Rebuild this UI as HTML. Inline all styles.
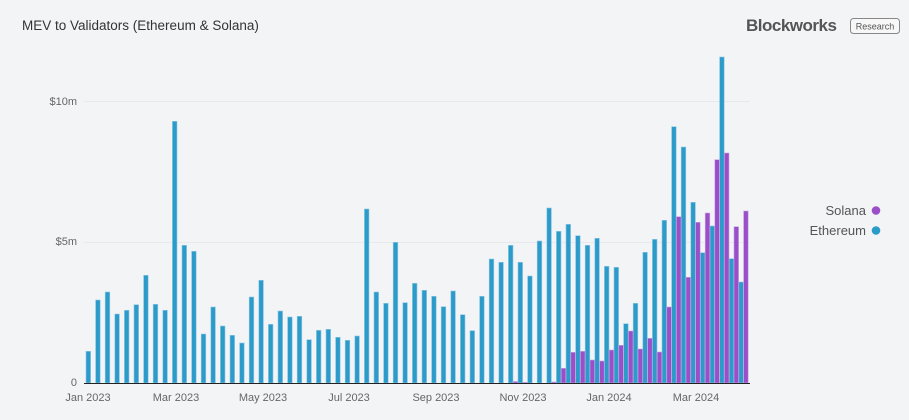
<!DOCTYPE html>
<html><head><meta charset="utf-8"><style>
html,body{margin:0;padding:0;background:#f3f4f6;}
body{width:909px;height:415px;overflow:hidden;font-family:"Liberation Sans",sans-serif;}
</style></head><body>
<svg width="909" height="415" viewBox="0 0 909 415" xmlns="http://www.w3.org/2000/svg" font-family="Liberation Sans, sans-serif">
<rect width="909" height="415" fill="#f3f4f6"/>
<text x="22" y="30" font-size="13.5" fill="#333">MEV to Validators (Ethereum &amp; Solana)</text>
<text x="746" y="31" font-size="17" font-weight="bold" fill="#555" letter-spacing="-0.5">Blockworks</text>
<rect x="850.5" y="18.5" width="49" height="15" rx="3" fill="#f7f7f7" stroke="#888"/>
<text x="875" y="29.5" font-size="9" fill="#555" text-anchor="middle">Research</text>
<g stroke="#e8e9ec" stroke-width="1">
<line x1="84" y1="101.5" x2="750" y2="101.5"/>
<line x1="84" y1="242.5" x2="750" y2="242.5"/>
</g>
<g font-size="11" fill="#666" text-anchor="end">
<text x="77" y="105">$10m</text>
<text x="77" y="245">$5m</text>
<text x="77" y="386">0</text>
</g>
<g font-size="11" fill="#666" text-anchor="middle">
<text x="88" y="401">Jan 2023</text>
<text x="176" y="401">Mar 2023</text>
<text x="263" y="401">May 2023</text>
<text x="349" y="401">Jul 2023</text>
<text x="436" y="401">Sep 2023</text>
<text x="523" y="401">Nov 2023</text>
<text x="609" y="401">Jan 2024</text>
<text x="696" y="401">Mar 2024</text>
</g>
<g fill="#2d9bca" stroke="#8fc9e4" stroke-width="0.6">
<rect x="86" y="351.3" width="4.6" height="31.7"/>
<rect x="95.6" y="300" width="4.6" height="83"/>
<rect x="105.2" y="292" width="4.6" height="91"/>
<rect x="114.8" y="314" width="4.6" height="69"/>
<rect x="124.4" y="310.3" width="4.6" height="72.7"/>
<rect x="134" y="304.7" width="4.6" height="78.3"/>
<rect x="143.6" y="275.3" width="4.6" height="107.7"/>
<rect x="153.2" y="304.3" width="4.6" height="78.7"/>
<rect x="162.8" y="310.3" width="4.6" height="72.7"/>
<rect x="172.4" y="121.3" width="4.6" height="261.7"/>
<rect x="182" y="245.3" width="4.6" height="137.7"/>
<rect x="191.6" y="251.3" width="4.6" height="131.7"/>
<rect x="201.2" y="334" width="4.6" height="49"/>
<rect x="210.8" y="307" width="4.6" height="76"/>
<rect x="220.4" y="326" width="4.6" height="57"/>
<rect x="230" y="335.3" width="4.6" height="47.7"/>
<rect x="239.6" y="343" width="4.6" height="40"/>
<rect x="249.2" y="297" width="4.6" height="86"/>
<rect x="258.8" y="280.3" width="4.6" height="102.7"/>
<rect x="268.4" y="324.3" width="4.6" height="58.7"/>
<rect x="278" y="311" width="4.6" height="72"/>
<rect x="287.6" y="317" width="4.6" height="66"/>
<rect x="297.2" y="316.3" width="4.6" height="66.7"/>
<rect x="306.8" y="339.7" width="4.6" height="43.3"/>
<rect x="316.4" y="330.3" width="4.6" height="52.7"/>
<rect x="326" y="329.3" width="4.6" height="53.7"/>
<rect x="335.6" y="337.3" width="4.6" height="45.7"/>
<rect x="345.2" y="340.3" width="4.6" height="42.7"/>
<rect x="354.8" y="336" width="4.6" height="47"/>
<rect x="364.4" y="209" width="4.6" height="174"/>
<rect x="374" y="292" width="4.6" height="91"/>
<rect x="383.6" y="303.3" width="4.6" height="79.7"/>
<rect x="393.2" y="242.3" width="4.6" height="140.7"/>
<rect x="402.8" y="302.7" width="4.6" height="80.3"/>
<rect x="412.4" y="283.3" width="4.6" height="99.7"/>
<rect x="422" y="290.3" width="4.6" height="92.7"/>
<rect x="431.6" y="296.3" width="4.6" height="86.7"/>
<rect x="441.2" y="306.7" width="4.6" height="76.3"/>
<rect x="450.8" y="291" width="4.6" height="92"/>
<rect x="460.4" y="314.7" width="4.6" height="68.3"/>
<rect x="470" y="330.7" width="4.6" height="52.3"/>
<rect x="479.6" y="296.3" width="4.6" height="86.7"/>
<rect x="489.2" y="259" width="4.6" height="124"/>
<rect x="498.8" y="262.3" width="4.6" height="120.7"/>
<rect x="508.4" y="245.3" width="4.6" height="137.7"/>
<rect x="518" y="262.3" width="4.6" height="120.7"/>
<rect x="527.6" y="276" width="4.6" height="107"/>
<rect x="537.2" y="241" width="4.6" height="142"/>
<rect x="546.8" y="208" width="4.6" height="175"/>
<rect x="556.4" y="231.3" width="4.6" height="151.7"/>
<rect x="566" y="224.3" width="4.6" height="158.7"/>
<rect x="575.6" y="235.7" width="4.6" height="147.3"/>
<rect x="585.2" y="245.3" width="4.6" height="137.7"/>
<rect x="594.8" y="238.3" width="4.6" height="144.7"/>
<rect x="604.4" y="266.3" width="4.6" height="116.7"/>
<rect x="614" y="267.3" width="4.6" height="115.7"/>
<rect x="623.6" y="323.7" width="4.6" height="59.3"/>
<rect x="633.2" y="303.3" width="4.6" height="79.7"/>
<rect x="642.8" y="252.3" width="4.6" height="130.7"/>
<rect x="652.4" y="239.3" width="4.6" height="143.7"/>
<rect x="662" y="220.3" width="4.6" height="162.7"/>
<rect x="671.6" y="126.7" width="4.6" height="256.3"/>
<rect x="681.2" y="147" width="4.6" height="236"/>
<rect x="690.8" y="202.3" width="4.6" height="180.7"/>
<rect x="700.4" y="252.7" width="4.6" height="130.3"/>
<rect x="710" y="226" width="4.6" height="157"/>
<rect x="719.6" y="57" width="4.6" height="326"/>
<rect x="729.2" y="258.7" width="4.6" height="124.3"/>
<rect x="738.8" y="282" width="4.6" height="101"/>
</g>
<g fill="#9a4fc9" stroke="#c9a6e3" stroke-width="0.6">
<rect x="513.2" y="381.5" width="4.6" height="1.5"/>
<rect x="522.8" y="382.3" width="4.6" height="0.7"/>
<rect x="551.6" y="382" width="4.6" height="1"/>
<rect x="561.2" y="368.3" width="4.6" height="14.7"/>
<rect x="570.8" y="352.3" width="4.6" height="30.7"/>
<rect x="580.4" y="351.3" width="4.6" height="31.7"/>
<rect x="590" y="360" width="4.6" height="23"/>
<rect x="599.6" y="361" width="4.6" height="22"/>
<rect x="609.2" y="350" width="4.6" height="33"/>
<rect x="618.8" y="345.3" width="4.6" height="37.7"/>
<rect x="628.4" y="331" width="4.6" height="52"/>
<rect x="638" y="349" width="4.6" height="34"/>
<rect x="647.6" y="338.3" width="4.6" height="44.7"/>
<rect x="657.2" y="352" width="4.6" height="31"/>
<rect x="666.8" y="307" width="4.6" height="76"/>
<rect x="676.4" y="216.7" width="4.6" height="166.3"/>
<rect x="686" y="277.3" width="4.6" height="105.7"/>
<rect x="695.6" y="222.3" width="4.6" height="160.7"/>
<rect x="705.2" y="213" width="4.6" height="170"/>
<rect x="714.8" y="159.7" width="4.6" height="223.3"/>
<rect x="724.4" y="153" width="4.6" height="230"/>
<rect x="734" y="226.7" width="4.6" height="156.3"/>
<rect x="743.6" y="211" width="4.6" height="172"/>
</g>
<line x1="84" y1="383.5" x2="750" y2="383.5" stroke="#222" stroke-width="1"/>
<g font-size="13" fill="#555" text-anchor="end">
<text x="866" y="215">Solana</text>
<text x="866" y="235">Ethereum</text>
</g>
<circle cx="876" cy="210.5" r="4.3" fill="#9a4fc9"/>
<circle cx="876" cy="230.5" r="4.3" fill="#2d9bca"/>
</svg>
</body></html>
